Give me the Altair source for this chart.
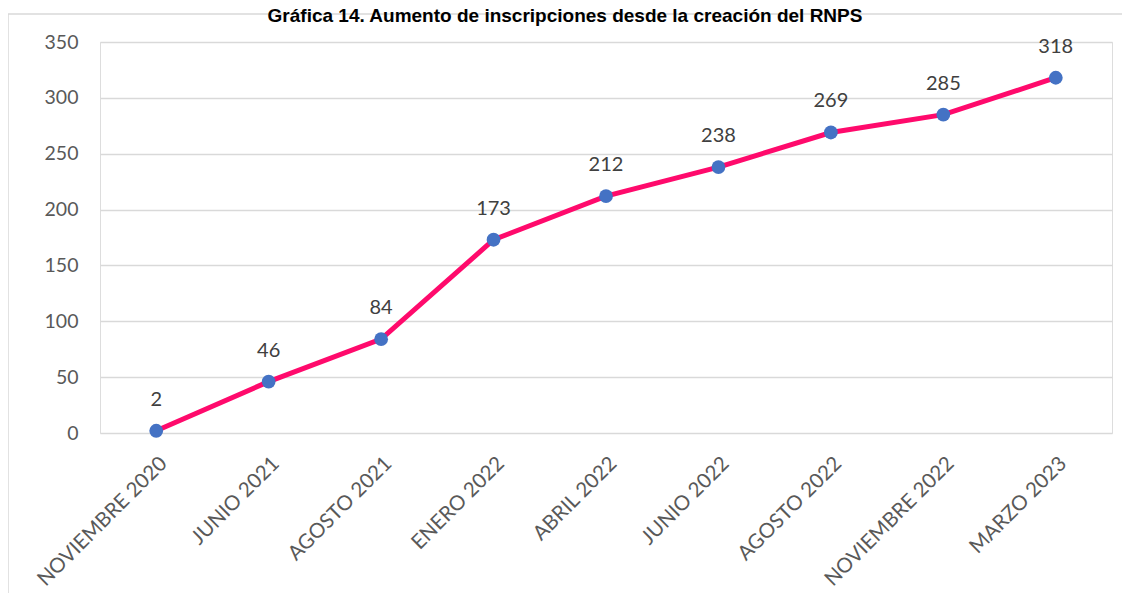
import altair as alt
import pandas as pd

categories = ["NOVIEMBRE 2020", "JUNIO 2021", "AGOSTO 2021", "ENERO 2022", "ABRIL 2022",
              "JUNIO 2022", "AGOSTO 2022", "NOVIEMBRE 2022", "MARZO 2023"]
values = [2, 46, 84, 173, 212, 238, 269, 285, 318]
y_ticks = [0, 50, 100, 150, 200, 250, 300, 350]
title_text = "Gráfica 14. Aumento de inscripciones desde la creación del RNPS"

df = pd.DataFrame({"cat": categories, "val": values})
FONT = "Lato"

base = alt.Chart(df).encode(
    x=alt.X("cat:N", sort=categories, title=None,
            scale=alt.Scale(paddingOuter=0.5),
            axis=alt.Axis(labelAngle=-45, labelFont=FONT, labelFontSize=20.5,
                          labelColor="#595959", domain=False, ticks=False,
                          labelPadding=20, grid=False)),
    y=alt.Y("val:Q", title=None,
            scale=alt.Scale(domain=[0, 350], nice=False),
            axis=alt.Axis(values=y_ticks, labelFont=FONT, labelFontSize=19.5,
                          labelColor="#595959", domain=False, ticks=False,
                          labelPadding=22, grid=True, gridColor="#D9D9D9",
                          gridWidth=1.5)),
)

line = base.mark_line(color="#FF0A6C", strokeWidth=5)
points = base.mark_circle(color="#4472C4", size=190, opacity=1)
labels = base.mark_text(font=FONT, fontSize=20, color="#404040", dy=-31,
                        baseline="middle").encode(text="val:Q")

one = pd.DataFrame({"a": [0]})
border = alt.Chart(one).mark_rect(fill="transparent", stroke="#D9D9D9",
                                  strokeWidth=1.5).encode(
    x=alt.value(-92), x2=alt.value(1200), y=alt.value(-28), y2=alt.value(700))
title = alt.Chart(one).mark_text(font="Liberation Sans", fontWeight="bold",
                                 fontSize=19, color="#000000",
                                 baseline="alphabetic", align="center").encode(
    x=alt.value(465), y=alt.value(-20), text=alt.value(title_text))

chart = alt.layer(border, title, line, points, labels).properties(
    width=1012, height=391,
    autosize=alt.AutoSizeParams(type="none"),
    padding={"left": 92, "top": 34, "right": 10, "bottom": 160},
).configure_view(stroke=None).configure(background="white")

chart.save("out.html", embed_options={"renderer": "svg", "actions": False})
